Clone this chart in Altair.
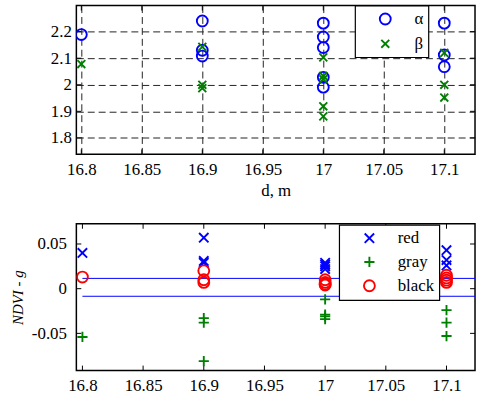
import altair as alt
import pandas as pd

FONT = "Times New Roman, Liberation Serif, serif"
BLUE, GREEN, RED = "#0000ff", "#008000", "#ff0000"
X_MARK = "M-1,-1L1,1M-1,1L1,-1"
PLUS_MARK = "M-1,0L1,0M0,-1L0,1"

# distance ticks shared by both panels
x_ticks = [16.8, 16.85, 16.9, 16.95, 17.0, 17.05, 17.1]

# upper panel: alpha and beta against distance
alpha_d = [16.8, 16.9, 16.9, 16.9, 17.0, 17.0, 17.0, 17.0, 17.0, 17.1, 17.1, 17.1]
alpha_v = [2.189, 2.240, 2.130, 2.108, 2.232, 2.180, 2.140, 2.028, 1.991, 2.232, 2.112, 2.068]
beta_d = [16.8, 16.9, 16.9, 16.9, 17.0, 17.0, 17.0, 17.0, 17.0, 17.1, 17.1, 17.1]
beta_v = [2.078, 2.143, 2.000, 1.987, 2.103, 2.033, 2.021, 1.919, 1.881, 2.120, 2.000, 1.952]
upper_ticks = [1.8, 1.9, 2.0, 2.1, 2.2]

# lower panel: NDVI - g for the three groups
red_d = [16.8, 16.9, 16.9, 16.9, 17.0, 17.0, 17.0, 17.0, 17.1, 17.1, 17.1]
red_v = [0.040, 0.057, 0.031, 0.029, 0.029, 0.027, 0.025, 0.022, 0.043, 0.032, 0.026]
gray_d = [16.8, 16.9, 16.9, 16.9, 17.0, 17.0, 17.0, 17.0, 17.1, 17.1, 17.1]
gray_v = [-0.054, -0.033, -0.038, -0.081, -0.012, -0.029, -0.031, -0.034, -0.024, -0.038, -0.053]
black_d = [16.8, 16.9, 16.9, 16.9, 17.0, 17.0, 17.0, 17.0, 17.1, 17.1, 17.1, 17.1]
black_v = [0.013, 0.020, 0.010, 0.007, 0.010, 0.007, 0.005, 0.004, 0.015, 0.012, 0.0095, 0.007]
band_levels = [0.0115, -0.0085]
lower_ticks = [-0.05, 0.0, 0.05]

W = 402
H1, H2 = 150, 148
TICK = 5

upper = pd.DataFrame({
    "d": alpha_d + beta_d,
    "v": alpha_v + beta_v,
    "s": ["α"] * len(alpha_v) + ["β"] * len(beta_v),
})
lower = pd.DataFrame({
    "d": red_d + gray_d + black_d,
    "v": red_v + gray_v + black_v,
    "s": ["red"] * len(red_v) + ["gray"] * len(gray_v) + ["black"] * len(black_v),
})
bands = pd.DataFrame({"v": band_levels, "d": [16.8] * 2, "d2": [17.3] * 2})


def fmt(spec):
    return f"replace(format(datum.value, '{spec}'), '\u2212', '-')"


def inner_ticks(ys, h, xenc_args, yenc_args):
    """Inward-pointing tick marks on all four sides of a panel."""
    xt = pd.DataFrame({"d": x_ticks})
    yt = pd.DataFrame({"v": ys})
    base_x = alt.Chart(xt).mark_rule(color="black", strokeWidth=1)
    base_y = alt.Chart(yt).mark_rule(color="black", strokeWidth=1)
    return [
        base_x.encode(x=alt.X("d:Q", **xenc_args), y=alt.value(0), y2=alt.value(TICK)),
        base_x.encode(x=alt.X("d:Q", **xenc_args), y=alt.value(h - TICK), y2=alt.value(h)),
        base_y.encode(y=alt.Y("v:Q", **yenc_args), x=alt.value(0), x2=alt.value(TICK)),
        base_y.encode(y=alt.Y("v:Q", **yenc_args), x=alt.value(W - TICK), x2=alt.value(W)),
    ]


legend_common = dict(
    title=None, orient="none", direction="vertical",
    fillColor="white", strokeColor="black",
    labelFont=FONT, labelFontSize=17, labelColor="black",
    symbolStrokeWidth=1.9, symbolOpacity=1,
)

# ---- upper panel
top_x = dict(
    scale=alt.Scale(domain=[16.7959, 17.1254], nice=False, zero=False),
    axis=alt.Axis(values=x_ticks, labelExpr=fmt(".2~f"), title="d, m",
                  grid=True, gridDash=[7, 4], gridColor="#222222", gridWidth=1,
                  labelPadding=7, titlePadding=5),
)
top_y = dict(
    scale=alt.Scale(domain=[1.738, 2.298], nice=False, zero=False),
    axis=alt.Axis(values=upper_ticks, labelExpr=fmt(".1~f"), title=None,
                  grid=True, gridDash=[7, 4], gridColor="#222222", gridWidth=1,
                  labelPadding=5),
)
top_legend = alt.Legend(legendX=281, legendY=0, padding=5, symbolSize=110,
                        rowPadding=6, symbolOffset=17, labelOffset=21,
                        **legend_common)
top_points = alt.Chart(upper).mark_point(filled=False, strokeWidth=1.9, opacity=1, clip=True).encode(
    x=alt.X("d:Q", **top_x),
    y=alt.Y("v:Q", **top_y),
    color=alt.Color("s:N", scale=alt.Scale(domain=["α", "β"], range=[BLUE, GREEN]),
                    legend=top_legend),
    shape=alt.Shape("s:N", scale=alt.Scale(domain=["α", "β"], range=["circle", X_MARK]),
                    legend=top_legend),
    size=alt.Size("s:N", scale=alt.Scale(domain=["α", "β"], range=[121, 64]), legend=None),
)
top = alt.layer(*inner_ticks(upper_ticks, H1, top_x, top_y), top_points).properties(
    width=W, height=H1)

# ---- lower panel
bot_x = dict(
    scale=alt.Scale(domain=[16.795, 17.1235], nice=False, zero=False),
    axis=alt.Axis(values=x_ticks, labelExpr=fmt(".2~f"), title=None, grid=False,
                  labelPadding=7),
)
bot_y = dict(
    scale=alt.Scale(domain=[-0.0916, 0.0726], nice=False, zero=False),
    axis=alt.Axis(values=lower_ticks, labelExpr=fmt(".2~f"), title="NDVI - g", grid=False,
                  labelPadding=10, titleFont=FONT, titleFontStyle="italic",
                  titleFontWeight="normal", titleFontSize=15, titlePadding=6),
)
bot_legend = alt.Legend(legendX=265, legendY=1, padding=5, symbolSize=100,
                        rowPadding=5, symbolOffset=17, labelOffset=20,
                        **legend_common)
groups = ["red", "gray", "black"]
band_lines = alt.Chart(bands).mark_rule(color=BLUE, strokeWidth=1, clip=True).encode(
    x=alt.X("d:Q", **bot_x),
    x2="d2:Q",
    y=alt.Y("v:Q", **bot_y),
)
bot_points = alt.Chart(lower).mark_point(filled=False, strokeWidth=1.9, opacity=1, clip=True).encode(
    x=alt.X("d:Q", **bot_x),
    y=alt.Y("v:Q", **bot_y),
    color=alt.Color("s:N", scale=alt.Scale(domain=groups, range=[BLUE, GREEN, RED]),
                    legend=bot_legend),
    shape=alt.Shape("s:N", scale=alt.Scale(domain=groups, range=[X_MARK, PLUS_MARK, "circle"]),
                    legend=bot_legend),
    size=alt.Size("s:N", scale=alt.Scale(domain=groups, range=[90, 121, 100]), legend=None),
)
bot = alt.layer(*inner_ticks(lower_ticks, H2, bot_x, bot_y), band_lines, bot_points).properties(
    width=W, height=H2)

chart = alt.vconcat(top, bot, spacing=23).resolve_scale(
    color="independent", shape="independent", size="independent",
).resolve_legend(
    color="independent", shape="independent", size="independent",
).properties(
    padding={"left": 9, "top": 2, "right": 0, "bottom": 0},
    background="white",
).configure_view(
    stroke="black", strokeWidth=1.5,
).configure_axis(
    labelFont=FONT, labelFontSize=17, labelColor="black",
    titleFont=FONT, titleFontSize=17, titleColor="black", titleFontWeight="normal",
    ticks=False, domain=False,
).configure_legend(
    strokeWidth=1.2,
)

chart.save("out.html", embed_options={"renderer": "svg", "actions": False})
